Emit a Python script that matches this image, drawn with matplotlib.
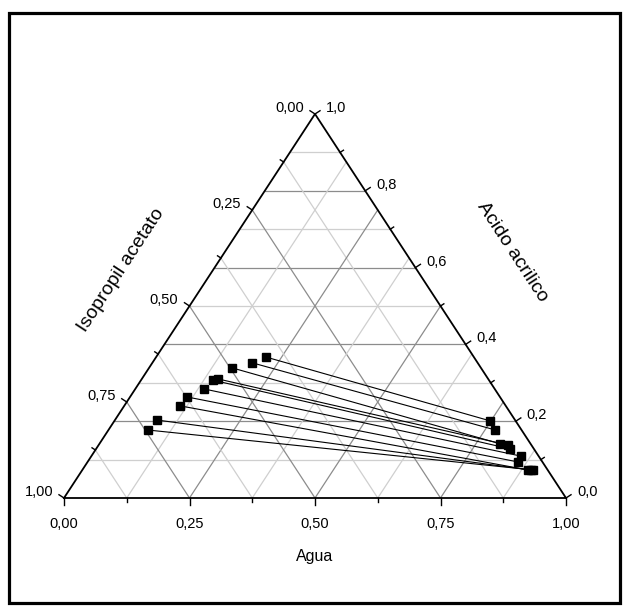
import numpy as np
import matplotlib
matplotlib.use("Agg")
import matplotlib.pyplot as plt
from matplotlib.transforms import offset_copy
from matplotlib.patches import Rectangle

plt.rcParams["font.family"] = ["Liberation Sans", "DejaVu Sans"]

# Tie-line end compositions (mass fractions): organic phase
org_agua = [0.219, 0.199, 0.165, 0.152, 0.143, 0.137, 0.114, 0.111, 0.084, 0.079]
org_acido = [0.367, 0.352, 0.339, 0.310, 0.307, 0.284, 0.263, 0.240, 0.203, 0.177]
# aqueous phase
aq_agua = [0.748, 0.771, 0.799, 0.815, 0.824, 0.856, 0.857, 0.888, 0.893, 0.898]
aq_acido = [0.201, 0.177, 0.141, 0.138, 0.128, 0.109, 0.094, 0.073, 0.073, 0.073]

agua_ticks = [0.0, 0.25, 0.5, 0.75, 1.0]
agua_labels = ["0,00", "0,25", "0,50", "0,75", "1,00"]
iso_ticks = [0.0, 0.25, 0.5, 0.75, 1.0]
iso_labels = ["0,00", "0,25", "0,50", "0,75", "1,00"]
acido_ticks = [0.0, 0.2, 0.4, 0.6, 0.8, 1.0]
acido_labels = ["0,0", "0,2", "0,4", "0,6", "0,8", "1,0"]

W, H = 629, 611
fig = plt.figure(figsize=(W / 100, H / 100), dpi=100)
X0, Y0, XW, YH = 64, 498, 502, 384  # triangle box in pixels
ax = fig.add_axes([X0 / W, 1 - Y0 / H, XW / W, YH / H])
ax.set_xlim(0, 1)
ax.set_ylim(0, 1)
ax.axis("off")


def xy(a, c):
    """Ternary (agua, acido) -> cartesian triangle coordinates."""
    a = np.asarray(a, dtype=float)
    c = np.asarray(c, dtype=float)
    return a + 0.5 * c, c


def px(dx, dy):
    """Pixel offset -> data offset."""
    return dx / XW, dy / YH


MAJ = "#8c8c8c"
MIN = "#cfcfcf"

# grid: constant acido (horizontal)
for k in range(1, 10):
    c = k / 10
    x, y = xy([0, 1 - c], [c, c])
    ax.plot(x, y, color=MAJ if k % 2 == 0 else MIN, lw=0.9, zorder=1)
# grid: constant agua and constant isopropil acetato
for k in range(1, 8):
    f = k / 8
    col = MAJ if k % 2 == 0 else MIN
    x, y = xy([f, f], [0, 1 - f])
    ax.plot(x, y, color=col, lw=0.9, zorder=1)
    x, y = xy([1 - f, 0], [0, 1 - f])
    ax.plot(x, y, color=col, lw=0.9, zorder=1)

# triangle outline
x, y = xy([0, 1, 0, 0], [0, 0, 1, 0])
ax.plot(x, y, color="black", lw=1.3, zorder=3, clip_on=False,
        solid_joinstyle="miter")

nl = np.array([-384.0, 251.0]); nl /= np.hypot(*nl)
nr = np.array([384.0, 251.0]); nr /= np.hypot(*nr)

# bottom axis (Agua)
for k in range(9):
    a = k / 8
    L = 7 if k % 2 == 0 else 4
    x0, y0 = xy(a, 0)
    ddx, ddy = px(0, -L)
    ax.plot([x0, x0 + ddx], [y0, y0 + ddy], color="black", lw=1.0,
            clip_on=False, zorder=3)
for t, lab in zip(agua_ticks, agua_labels):
    x0, y0 = xy(t, 0)
    tr = offset_copy(ax.transData, fig=fig, x=0, y=-26, units="dots")
    ax.text(x0, y0, lab, transform=tr, ha="center", va="center", fontsize=10.5)

# left axis (Isopropil acetato): value i -> agua 0, acido 1-i
for k in range(9):
    i = k / 8
    L = 6 if k % 2 == 0 else 4
    x0, y0 = xy(0, 1 - i)
    ddx, ddy = px(*(nl * L))
    ax.plot([x0, x0 + ddx], [y0, y0 + ddy], color="black", lw=1.0,
            clip_on=False, zorder=3)
for t, lab in zip(iso_ticks, iso_labels):
    x0, y0 = xy(0, 1 - t)
    tr = offset_copy(ax.transData, fig=fig, x=-11, y=6, units="dots")
    ax.text(x0, y0, lab, transform=tr, ha="right", va="center", fontsize=10.5)

# right axis (Acido acrilico)
for k in range(11):
    c = k / 10
    L = 6 if k % 2 == 0 else 4
    x0, y0 = xy(1 - c, c)
    ddx, ddy = px(*(nr * L))
    ax.plot([x0, x0 + ddx], [y0, y0 + ddy], color="black", lw=1.0,
            clip_on=False, zorder=3)
for t, lab in zip(acido_ticks, acido_labels):
    x0, y0 = xy(1 - t, t)
    tr = offset_copy(ax.transData, fig=fig, x=11, y=6, units="dots")
    ax.text(x0, y0, lab, transform=tr, ha="left", va="center", fontsize=10.5)

# axis titles
fig.text(315 / W, 1 - 557 / H, "Agua", ha="center", va="center", fontsize=11.5)
ang = np.degrees(np.arctan2(384, 251))
fig.text(121 / W, 1 - 270 / H, "Isopropil acetato", ha="center", va="center",
         fontsize=14, rotation=ang, rotation_mode="anchor")
fig.text(512 / W, 1 - 252 / H, "Acido acrilico", ha="center", va="center",
         fontsize=14, rotation=-ang, rotation_mode="anchor")

# tie lines
for ao, co, aa, ca in zip(org_agua, org_acido, aq_agua, aq_acido):
    x, y = xy([ao, aa], [co, ca])
    ax.plot(x, y, color="black", lw=0.8, zorder=4, clip_on=False)
xo, yo = xy(org_agua, org_acido)
xa, ya = xy(aq_agua, aq_acido)
ax.plot(xo, yo, "s", color="black", ms=5.8, zorder=5, clip_on=False)
ax.plot(xa, ya, "s", color="black", ms=5.8, zorder=5, clip_on=False)

# outer frame
fig.patches.append(Rectangle((9 / W, 1 - 603 / H), (620 - 9) / W, (603 - 13) / H,
                             transform=fig.transFigure, fill=False,
                             edgecolor="black", lw=2.3))

fig.savefig("out.png", dpi=100)
